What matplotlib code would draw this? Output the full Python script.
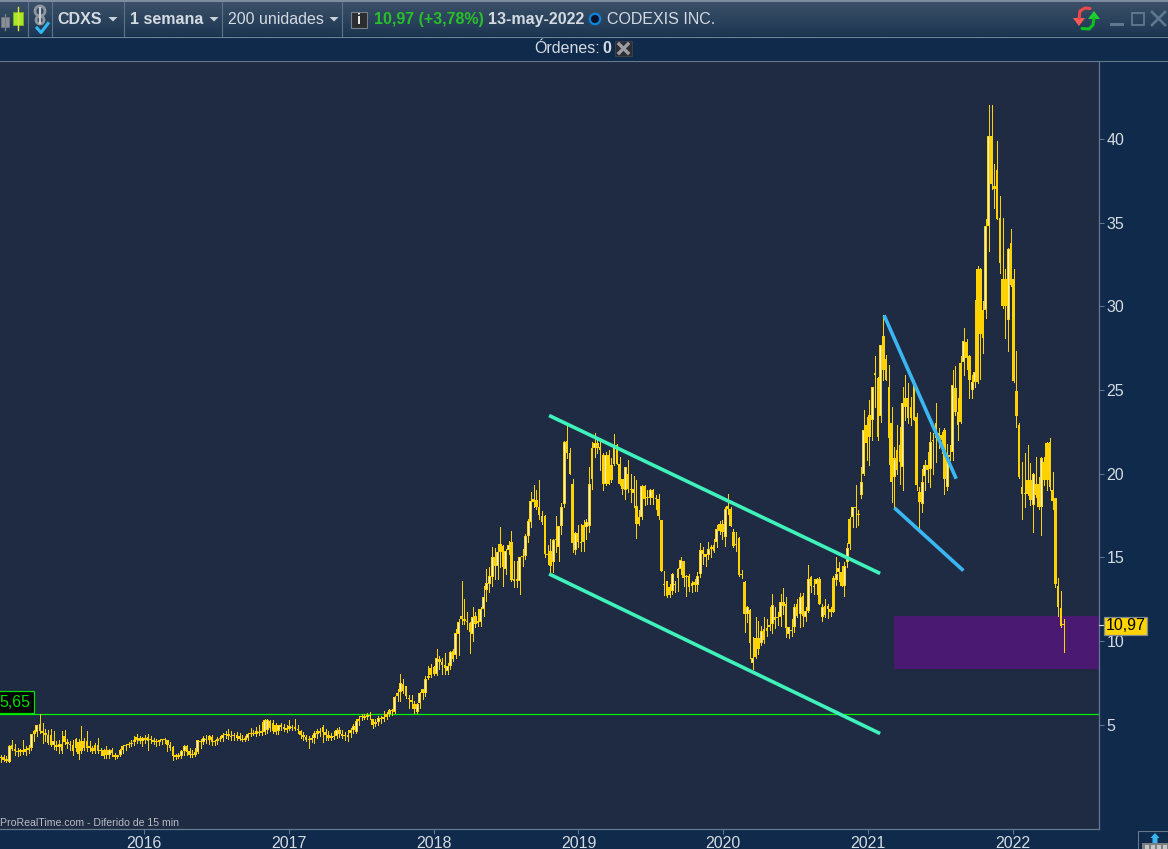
import numpy as np
import pandas as pd
import matplotlib
matplotlib.use('Agg')
import matplotlib.pyplot as plt
import matplotlib.dates as mdates
from matplotlib.patches import Rectangle, Circle, Polygon

plt.rcParams['font.family'] = ['Liberation Sans', 'DejaVu Sans']

# weekly candles, one [open, high, low, close] row per week
ohlc_2015 = [
    [3.0,3.15,2.75,3.05],[3.05,3.2,2.8,2.9],[2.95,3.1,2.75,2.8],[2.78,3.75,2.75,3.7],
    [3.75,4.05,3.5,3.55],[3.55,3.85,3.2,3.4],[3.4,3.6,3.1,3.35],[3.35,3.55,3.15,3.45],
    [3.45,4.1,3.25,3.35],[3.35,3.7,3.2,3.55],[3.45,3.75,3.3,3.6],[3.6,3.8,3.5,4.45],
    [4.45,4.7,4.0,4.6],[4.55,5.0,4.3,4.95],[5.05,5.6,4.5,4.6],[4.6,5.1,3.9,4.5],
    [4.5,4.75,4.0,4.35],[4.35,4.7,3.85,3.9],[4.4,4.75,3.7,3.8],[3.8,4.6,3.55,4.0],
    [3.8,4.0,3.5,3.65],[3.65,4.1,3.3,3.85],[3.85,4.6,3.3,3.4],[4.3,4.65,3.85,3.95],
    [3.95,4.15,3.6,3.85],[3.85,4.0,3.5,3.75],[3.75,4.1,3.2,3.4],[4.15,4.2,3.4,3.6],
    [3.95,4.15,2.95,3.25],[4.0,4.9,3.3,3.4],[4.0,4.2,3.5,3.6],[4.0,4.6,3.4,3.6],
    [3.7,4.0,3.4,3.6],[3.6,3.7,3.3,3.4],[3.75,3.9,3.3,3.4],[3.8,4.2,3.3,3.4],
    [3.4,3.6,3.2,3.5],[3.45,3.55,3.0,3.1],[3.5,3.7,3.0,3.15],[3.15,3.55,3.0,3.45],
    [3.45,3.6,3.1,3.3],[3.15,3.3,2.95,3.05],[3.05,3.2,3.0,3.15],[3.2,3.55,3.1,3.5],
    [3.45,3.75,3.3,3.7],[3.7,3.85,3.5,3.75],[3.75,3.95,3.65,3.85],[3.85,4.1,3.7,3.9],
    [3.95,4.3,3.75,4.1],[4.1,4.45,3.9,4.25],[4.2,4.3,3.9,4.0],[4.0,4.25,3.7,4.2],
]
ohlc_2016 = [
    [4.1,4.4,3.9,4.2],[4.25,4.45,3.5,4.0],[4.05,4.3,3.9,4.1],[4.05,4.2,3.85,3.95],
    [4.0,4.15,3.7,3.95],[3.95,4.1,3.75,4.05],[4.05,4.15,3.85,4.1],[4.1,4.2,3.9,4.15],
    [4.05,4.1,3.4,3.8],[3.8,3.95,3.5,3.6],[3.65,3.7,2.9,3.1],[3.05,3.25,2.95,3.15],
    [3.15,3.3,3.0,3.05],[3.1,3.5,3.0,3.4],[3.4,3.8,3.2,3.7],[3.7,3.75,3.2,3.35],
    [3.4,3.6,3.05,3.15],[3.15,3.5,3.05,3.2],[3.2,3.6,3.1,3.35],[3.35,4.1,3.3,4.05],
    [4.0,4.15,3.6,3.95],[3.95,4.3,3.85,4.2],[4.15,4.35,3.9,4.05],[4.1,4.4,3.85,4.3],
    [4.25,4.35,3.75,3.95],[3.95,4.1,3.8,4.0],[4.0,4.25,3.85,4.15],[4.15,4.3,4.0,4.2],
    [4.2,4.5,4.0,4.4],[4.35,4.6,4.2,4.45],[4.45,4.75,4.15,4.3],[4.3,4.6,4.1,4.25],
    [4.3,4.5,4.05,4.35],[4.35,4.55,4.1,4.2],[4.3,4.5,4.05,4.15],[4.1,4.4,4.0,4.05],
    [4.05,4.3,4.0,4.2],[4.2,4.5,4.05,4.45],[4.45,4.8,4.3,4.5],[4.5,4.65,4.35,4.45],
    [4.45,4.85,4.3,4.6],[4.55,5.0,4.35,4.5],[4.5,5.15,4.4,4.6],[4.55,5.35,4.45,5.25],
    [4.7,5.35,4.5,5.25],[5.2,5.25,4.6,4.8],[5.1,5.25,4.5,4.6],[4.95,5.1,4.45,4.55],
    [4.6,5.0,4.45,4.95],[4.95,5.1,4.7,4.85],[4.85,5.05,4.6,4.75],[4.8,4.95,4.55,4.7],
]
ohlc_2017 = [
    [4.75,5.25,4.7,4.9],[4.85,5.0,4.65,4.8],[4.85,5.35,4.7,4.75],[4.75,5.0,4.5,4.7],
    [4.6,4.65,4.2,4.4],[4.4,4.55,4.05,4.25],[4.25,4.35,4.0,4.1],[4.15,4.3,3.6,4.05],
    [4.05,4.4,3.95,4.2],[4.2,4.6,3.9,4.5],[4.45,4.75,4.2,4.6],[4.6,4.8,4.3,4.5],
    [4.85,5.0,3.95,4.55],[4.55,4.75,4.1,4.35],[4.35,4.6,4.1,4.2],[4.2,4.5,4.1,4.3],
    [4.3,4.6,4.15,4.25],[4.3,4.8,4.2,4.65],[4.65,4.85,4.25,4.45],[4.45,4.7,4.2,4.3],
    [4.3,4.55,4.1,4.4],[4.4,4.65,4.0,4.25],[4.5,4.8,4.25,4.7],[4.7,5.05,4.5,4.9],
    [4.55,5.35,4.5,5.2],[5.2,5.5,5.0,5.35],[5.45,5.6,5.25,5.5],[5.5,5.65,5.3,5.4],
    [5.45,5.7,5.3,5.55],[5.55,5.75,5.35,5.5],[5.3,5.35,4.8,5.0],[5.05,5.3,4.9,5.15],
    [5.15,5.5,5.0,5.4],[5.4,5.5,5.1,5.3],[5.3,5.8,5.2,5.45],[5.45,5.75,5.35,5.6],
    [5.65,5.95,5.5,5.85],[5.85,5.95,5.55,5.8],[5.75,6.7,5.7,6.65],[6.9,7.1,6.4,6.7],
    [6.95,8.0,6.4,7.5],[7.45,7.7,6.9,7.0],[7.3,7.3,6.6,6.7],[6.6,6.75,6.0,6.5],
    [6.45,6.75,6.0,6.35],[6.25,6.4,5.7,5.9],[5.75,6.3,5.7,6.25],[6.3,6.95,6.0,6.9],
    [6.9,7.15,6.5,7.1],[6.9,7.9,6.7,7.7],[7.8,8.5,7.7,7.9],[7.95,8.6,7.85,8.35],
]
ohlc_2018 = [
    [8.45,8.5,7.95,8.0],[8.0,9.5,7.95,9.0],[8.9,9.1,8.3,8.75],[8.75,8.95,8.0,8.55],
    [8.55,9.3,8.0,8.35],[8.2,8.7,8.0,8.5],[8.5,9.4,8.3,9.35],[9.4,9.5,8.8,8.9],
    [9.15,10.7,9.0,10.45],[10.4,11.3,9.15,11.1],[11.5,13.6,11.0,11.3],[11.3,12.5,11.0,11.2],
    [11.2,11.7,10.7,11.1],[11.05,11.1,9.25,10.5],[10.4,12.0,10.0,11.4],[11.5,11.7,10.8,11.0],
    [11.2,11.9,10.9,11.05],[11.1,12.0,10.9,11.9],[11.9,13.3,11.5,12.65],[13.05,14.3,12.4,13.45],
    [13.4,14.4,12.9,13.85],[13.8,15.6,13.3,15.0],[15.0,15.55,13.7,14.45],[14.45,15.8,13.7,15.3],
    [15.8,16.8,14.4,15.3],[15.65,15.7,13.3,14.4],[14.3,15.5,14.0,15.4],[15.45,15.95,15.2,15.7],
    [15.9,16.55,13.6,13.65],[13.7,14.8,13.2,13.6],[13.55,14.8,13.2,13.7],[13.6,15.0,12.8,15.0],
    [15.05,15.5,14.5,15.0],[15.05,16.4,14.9,16.25],[16.25,17.3,15.9,17.15],[17.1,18.9,16.8,18.35],
    [18.45,19.3,18.0,18.3],[18.4,19.0,17.9,18.0],[18.0,19.6,17.3,17.55],[17.45,17.75,17.0,17.1],
    [17.45,17.5,15.0,15.2],[15.2,15.7,14.6,15.15],[15.4,16.1,14.05,14.5],[14.7,16.1,14.1,16.05],
    [16.1,17.45,15.3,16.0],[15.6,16.85,14.8,16.85],[16.85,18.25,16.4,18.0],[18.2,21.95,18.0,21.9],
    [21.95,22.9,20.9,21.2],[21.2,21.5,20.0,20.0],[19.4,19.7,15.3,15.85],[15.45,16.5,15.2,16.45],
    [16.45,16.9,15.6,15.9],
]
ohlc_2019 = [
    [15.9,17.0,15.4,15.85],[16.9,17.2,15.4,15.9],[16.8,17.3,16.1,17.1],[16.85,20.4,16.5,19.35],
    [21.5,21.9,19.05,19.7],[21.5,22.4,21.0,21.8],[21.8,22.2,21.2,21.5],[21.6,22.1,20.2,21.4],
    [21.1,21.2,19.0,19.35],[19.4,21.3,19.3,21.1],[21.1,21.4,19.35,19.4],[20.5,20.9,19.5,19.6],
    [21.7,22.35,20.5,20.6],[21.7,21.75,20.6,20.6],[20.6,21.0,19.3,19.4],[19.65,19.7,18.8,19.1],
    [19.0,20.4,18.5,20.4],[20.0,20.8,18.9,19.1],[19.1,20.0,18.3,19.0],[19.1,19.85,18.0,18.85],
    [18.05,19.6,16.15,17.0],[17.4,17.85,16.9,17.0],[17.4,19.3,17.3,19.25],[19.25,19.3,18.1,18.5],
    [18.6,19.0,18.2,18.55],[18.55,19.05,18.2,19.0],[19.0,19.1,18.2,18.55],[18.5,18.7,17.9,18.45],
    [18.5,18.8,17.3,17.45],[17.2,17.25,14.15,14.2],[13.4,14.2,12.75,13.35],[13.55,13.6,12.6,12.7],
    [13.2,13.4,12.6,12.75],[13.0,14.05,12.8,14.0],[13.4,13.6,12.95,13.35],[14.3,14.35,13.0,13.75],
    [14.3,15.0,14.0,14.85],[14.75,14.8,13.3,13.75],[13.8,13.95,12.7,13.85],[13.85,14.0,13.0,13.2],
    [13.45,13.6,12.9,13.3],[13.5,13.7,13.0,13.35],[13.35,14.1,13.0,13.85],[14.0,15.85,13.8,15.45],
    [15.45,15.6,14.6,15.2],[15.2,15.2,14.5,15.0],[15.15,15.9,14.9,15.5],[15.5,15.75,15.0,15.6],
    [15.7,16.1,15.3,15.4],[15.9,16.9,15.6,16.7],[17.0,17.15,16.4,16.55],[17.0,17.2,16.1,16.5],
]
ohlc_2020 = [
    [16.2,18.0,15.65,17.9],[17.9,18.8,17.6,18.05],[17.9,18.0,16.85,16.85],[16.5,16.7,15.6,15.65],
    [15.8,16.5,15.4,15.7],[16.15,16.2,13.9,13.95],[13.95,14.25,13.75,13.98],[13.5,13.6,10.5,11.6],
    [11.6,12.1,11.1,12.05],[11.85,11.9,9.0,9.85],[8.65,10.25,8.3,8.95],[10.2,11.45,8.95,9.05],
    [10.2,11.2,9.2,9.5],[9.9,10.9,9.75,10.6],[10.7,11.45,9.9,10.05],[10.75,11.3,10.3,10.6],
    [10.95,12.0,10.65,10.8],[11.0,12.8,10.45,12.15],[11.4,12.0,10.75,11.25],[11.35,11.7,10.95,11.45],
    [11.4,12.8,10.9,12.3],[12.3,13.15,11.6,12.1],[12.2,12.65,10.25,10.75],[10.4,10.85,10.2,10.8],
    [10.65,11.3,10.3,10.6],[10.8,12.2,10.5,12.0],[12.2,12.5,11.4,11.5],[11.6,12.85,10.8,12.6],
    [12.7,12.85,10.9,11.5],[11.4,12.0,11.2,11.8],[11.8,14.55,11.7,13.7],[13.8,13.9,12.9,13.3],
    [13.3,13.7,12.8,13.2],[13.4,13.75,12.8,13.7],[13.7,13.8,12.2,12.2],[11.4,12.2,11.2,12.0],
    [12.1,12.5,11.4,11.55],[12.1,12.2,11.35,11.9],[11.9,12.0,11.5,11.7],[13.75,13.85,11.7,11.7],
    [13.65,15.0,13.35,14.0],[14.1,14.7,13.6,14.35],[14.1,14.5,13.3,13.3],[13.25,14.7,12.7,14.45],
    [14.7,15.85,14.4,15.55],[15.8,17.4,15.5,17.3],[17.4,18.0,16.8,18.0],[17.95,19.3,16.8,18.0],
    [17.6,17.8,16.9,17.55],[18.7,20.4,18.55,19.5],[20.0,23.8,19.9,22.6],[22.9,23.4,20.8,21.8],
]
ohlc_2021 = [
    [23.5,24.4,20.5,22.2],[23.2,25.2,22.0,25.2],[26.0,27.05,24.0,25.9],[25.7,25.8,22.0,22.2],
    [23.45,27.7,23.1,27.7],[28.2,29.45,25.6,26.2],[26.85,27.1,25.6,25.6],[25.2,26.5,20.6,22.1],
    [23.0,24.0,18.3,19.5],[19.8,21.6,18.0,20.9],[21.4,22.9,20.0,20.2],[21.7,22.8,19.4,20.7],
    [20.4,25.2,19.0,24.2],[24.5,25.9,23.2,24.0],[24.5,25.4,23.0,23.3],[24.0,24.6,22.9,23.3],
    [25.3,25.6,23.2,23.2],[23.4,23.6,19.0,19.3],[18.9,19.2,16.7,18.3],[18.2,20.3,17.7,19.5],
    [19.85,20.8,19.0,20.5],[20.5,21.3,19.5,20.2],[20.3,22.5,19.2,21.9],[22.0,22.4,20.0,21.95],
    [23.0,24.2,20.7,22.1],[22.4,22.7,21.5,22.0],[22.3,22.5,21.2,22.0],[22.6,22.7,18.8,19.7],
    [19.2,21.75,19.0,21.1],[21.1,21.7,20.8,21.0],[21.3,26.2,20.8,25.3],[25.1,26.4,23.5,23.65],
    [23.7,24.5,22.0,22.9],[23.1,27.05,23.0,26.6],[26.65,28.7,25.9,27.9],[27.85,28.05,26.25,26.9],
    [27.0,27.1,24.5,25.6],[25.0,25.9,24.5,25.5],[25.5,30.4,25.2,26.05],[32.2,32.4,25.4,25.45],
    [32.25,32.3,25.65,28.35],[29.75,30.3,27.2,28.1],[29.75,35.2,29.3,34.8],[34.8,42.0,33.3,40.15],
    [40.2,42.0,37.0,37.3],[37.2,38.5,35.9,37.0],[38.15,39.85,35.2,35.2],[35.3,36.6,32.0,32.6],
    [31.65,35.3,29.9,30.0],[31.65,32.25,28.1,30.0],[29.15,33.5,27.3,33.4],[33.8,34.6,31.2,31.25],
]
ohlc_2022 = [
    [31.6,32.25,25.5,25.55],[24.96,27.3,22.8,23.45],[22.9,23.0,19.75,19.8],[19.2,20.7,17.3,18.75],
    [18.8,21.2,18.0,18.75],[19.6,21.7,18.7,18.75],[19.6,20.65,18.15,18.4],[18.1,20.05,16.5,20.0],
    [19.4,21.0,18.6,18.7],[19.4,19.8,17.9,18.0],[18.0,21.0,16.3,20.9],[20.7,21.0,19.3,19.6],
    [19.6,21.9,19.0,21.85],[21.9,22.1,19.0,19.2],[19.0,20.1,17.9,18.35],[18.55,18.55,13.2,13.4],
    [13.25,13.75,11.5,12.0],[11.95,13.0,10.85,10.9],[10.95,11.3,9.35,10.97],
]

last_week = '2022-05-09'
last_close = 10.97
support_level = 5.65
years = [2016, 2017, 2018, 2019, 2020, 2021, 2022]
price_ticks = [5, 10, 15, 20, 25, 30, 35, 40]

# channel and wedge lines: (start date, start price, end date, end price)
channel_upper = ('2018-10-19', 23.47, '2021-01-31', 14.03)
channel_lower = ('2018-10-19', 14.0, '2021-01-31', 4.46)
wedge_upper = ('2021-02-10', 29.46, '2021-08-11', 19.69)
wedge_lower = ('2021-03-08', 17.95, '2021-08-29', 14.2)
zone_start = '2021-03-08'
zone_low, zone_high = 8.29, 11.5

CHART_BG = '#1f2b42'
SIDE_BG = '#0f2a4a'
AXIS_COL = '#66788e'
TEXT_COL = '#d3dae2'
CANDLE = '#ffd200'

ohlc = np.array(ohlc_2015 + ohlc_2016 + ohlc_2017 + ohlc_2018
                + ohlc_2019 + ohlc_2020 + ohlc_2021 + ohlc_2022)
open_, high, low, close = ohlc.T
weeks = pd.date_range(end=last_week, periods=len(ohlc), freq='7D')
x = mdates.date2num(weeks)

W, H = 1168, 849
fig = plt.figure(figsize=(W / 100, H / 100), dpi=100, facecolor=SIDE_BG)
ax = fig.add_axes([0, (H - 829) / H, 1099 / W, 767 / H], facecolor=CHART_BG)

# price zone under the candles
zone_x0 = mdates.datestr2num(zone_start)
ax.add_patch(Rectangle((zone_x0, zone_low), 1000, zone_high - zone_low,
                       fc='#4a1a72', ec='none', zorder=1))
ax.axhline(support_level, color='#00f000', lw=0.9, zorder=2)

# wicks then bodies, a white core when the week closed up
ax.vlines(x, low, high, color=CANDLE, lw=0.5, antialiased=False, zorder=3)
up = close >= open_
bottoms = np.minimum(open_, close)
heights = np.maximum(np.abs(close - open_), 0.06)
ax.bar(x[up], heights[up], bottom=bottoms[up], width=7.6, color=CANDLE,
       linewidth=0, antialiased=False, zorder=4)
ax.bar(x[~up], heights[~up], bottom=bottoms[~up], width=6.2, color=CANDLE,
       linewidth=0, antialiased=False, zorder=4)
core = up & (heights > 0.2)
ax.bar(x[core], heights[core] - 0.12, bottom=bottoms[core] + 0.06, width=2.4,
       color='#f2efe8', linewidth=0, antialiased=False, zorder=5)

for line, col in [(channel_upper, '#3ff2bb'), (channel_lower, '#3ff2bb'),
                  (wedge_upper, '#3ab6f2'), (wedge_lower, '#3ab6f2')]:
    d0, p0, d1, p1 = line
    ax.plot(mdates.datestr2num([d0, d1]), [p0, p1], color=col, lw=2.6,
            solid_capstyle='butt', zorder=6)

ax.set_xlim(mdates.date2num(pd.Timestamp('2016-01-01')) - 144 / 0.3964,
            mdates.date2num(pd.Timestamp('2016-01-01')) + 955 / 0.3964)
ax.set_ylim(-1.246, 44.6)

ax.set_xticks(mdates.date2num([pd.Timestamp(f'{y}-01-01') for y in years]))
ax.set_xticklabels([str(y) for y in years])
ax.yaxis.tick_right()
ax.set_yticks(price_ticks)
ax.tick_params(axis='both', colors=AXIS_COL, labelcolor=TEXT_COL, labelsize=11.5,
               length=3.6, width=0.75, pad=1.8)
ax.tick_params(axis='x', pad=1.2)
for side in ['left', 'top']:
    ax.spines[side].set_visible(False)
for side in ['right', 'bottom']:
    ax.spines[side].set_color(AXIS_COL)
    ax.spines[side].set_linewidth(0.9)

# value flags on the price line and on the axis
ax.annotate('5,65', xy=(0, support_level), xycoords=('axes fraction', 'data'),
            xytext=(-1, 4), textcoords='offset pixels', color='#00e000', fontsize=11.5,
            ha='left', va='bottom', zorder=8,
            bbox=dict(boxstyle='square,pad=0.24', fc='black', ec='#00e000', lw=0.9))
ax.plot([1, 1.0046], [last_close, last_close], color='#d8dee6', lw=0.8, clip_on=False,
        transform=ax.get_yaxis_transform(), zorder=6)
ax.annotate('10,97', xy=(1, last_close), xycoords=('axes fraction', 'data'),
            xytext=(7, -1), textcoords='offset pixels', color='black', fontsize=11.5,
            ha='left', va='center', annotation_clip=False, zorder=8,
            bbox=dict(boxstyle='square,pad=0.1', fc='#ffd400', ec='#7d8a98', lw=0.9))

# window furniture, drawn in pixel coordinates over everything
ui = fig.add_axes([0, 0, 1, 1], facecolor='none', zorder=10)
ui.axis('off')
grad = np.linspace(0, 1, 34).reshape(-1, 1, 1)
top_col = np.array([0x3b, 0x50, 0x68]) / 255
bot_col = np.array([0x1d, 0x36, 0x52]) / 255
ui.imshow(top_col + (bot_col - top_col) * grad, extent=(0, W, 36, 2), aspect='auto')
ui.add_patch(Rectangle((0, 0), W, 2, fc='#7d8ca0', ec='none'))
ui.plot([0, W], [36.5, 36.5], color='#6f8296', lw=0.8)
ui.plot([0, W], [61, 61], color=AXIS_COL, lw=0.8)
for sep in [28, 52, 124, 222, 342]:
    ui.plot([sep, sep], [2, 36], color='#5f7388', lw=0.8)

ui.plot([5, 5], [14, 30], color='#777f88', lw=1)
ui.add_patch(Rectangle((1, 17), 8, 10, fc='#8b9096', ec='#6d747c', lw=0.7))
ui.plot([18, 18], [7, 30], color='#e8e040', lw=1)
ui.add_patch(Rectangle((13, 12), 10, 13, fc='#a8e828', ec='#7fb020', lw=0.7))

ui.add_patch(Circle((40, 11), 5, fc='none', ec='#8f959c', lw=2))
ui.add_patch(Circle((40, 20), 4, fc='none', ec='#8f959c', lw=2))
ui.plot([40, 40], [8, 23], color='#c8ccd0', lw=1.6)
ui.plot([37, 41, 48], [28, 32.5, 23.5], color='#2fb8f4', lw=2.2)

for tx in [113, 214, 334]:
    ui.add_patch(Polygon([(tx - 4.5, 17), (tx + 4.5, 17), (tx, 21.5)], fc='#c8d0d8', ec='none'))

text_y = 19
ui.text(57, text_y, 'CDXS', color=TEXT_COL, fontsize=11.5, fontweight='bold', va='center')
ui.text(130, text_y, '1 semana', color=TEXT_COL, fontsize=11.5, fontweight='bold', va='center')
ui.text(228, text_y, '200 unidades', color=TEXT_COL, fontsize=11.5, va='center')
ui.add_patch(Rectangle((350.5, 11.5), 16, 16, fc='#2b2d30', ec='#7a8088', lw=0.8))
ui.text(358.5, text_y + 0.5, 'i', color='#e8e8e8', fontsize=10.5, fontweight='bold', ha='center', va='center')
ui.text(374, text_y, '10,97 (+3,78%)', color='#28c028', fontsize=11.5, fontweight='bold', va='center')
ui.text(488, text_y, '13-may-2022', color=TEXT_COL, fontsize=11.5, fontweight='bold', va='center')
ui.add_patch(Circle((595, 19), 5.2, fc='#06122a', ec='#0b86dc', lw=1.6))
ui.text(607, text_y, 'CODEXIS INC.', color=TEXT_COL, fontsize=11.5, va='center')

ui.text(534, 48.5, 'Órdenes:', color=TEXT_COL, fontsize=11.5, va='center')
ui.text(602, 48.5, '0', color=TEXT_COL, fontsize=11.5, fontweight='bold', va='center')
ui.add_patch(Rectangle((615, 41), 17, 15, fc='#2b2d30', ec='#3c4046', lw=0.7))
ui.plot([619, 628], [44, 53], color='#9a9ea4', lw=2.4)
ui.plot([628, 619], [44, 53], color='#9a9ea4', lw=2.4)

# refresh arrows
ui.plot([1090, 1085, 1080, 1079], [8.5, 8, 11, 19], color='#f04848', lw=2.2, solid_capstyle='round')
ui.add_patch(Polygon([(1073, 18), (1085, 18), (1079, 26)], fc='#ff5a5a', ec='none'))
ui.plot([1082, 1089, 1093, 1094], [28.5, 29, 25, 18], color='#10c020', lw=2.2, solid_capstyle='round')
ui.add_patch(Polygon([(1088, 19), (1100, 19), (1094, 11)], fc='#20d030', ec='none'))

win_col = '#5e7890'
ui.add_patch(Rectangle((1110, 23), 14, 2.5, fc=win_col, ec='none'))
ui.add_patch(Rectangle((1131.5, 12.5), 12, 12, fc='none', ec=win_col, lw=1.3))
ui.add_patch(Rectangle((1131, 11.5), 13, 2.5, fc=win_col, ec='none'))
ui.plot([1152, 1165], [12, 25], color=win_col, lw=1.9)
ui.plot([1165, 1152], [12, 25], color=win_col, lw=1.9)

ui.text(0, 823, 'ProRealTime.com - Diferido de 15 min', color='#b9bec4', fontsize=7.6, va='center')

# corner button
ui.plot([1137.5, 1137.5, W], [H, 830.5, 830.5], color=AXIS_COL, lw=0.8)
ui.add_patch(Polygon([(1150.5, 838), (1155, 833), (1159.5, 838), (1157.5, 838), (1157.5, 843),
                      (1152.5, 843), (1152.5, 838)], fc='#38b6f4', ec='none'))
ui.add_patch(Rectangle((1142, 843), 26, 6, fc='#7c7f82', ec='none'))
for sq in [1145, 1151, 1157, 1163]:
    ui.add_patch(Rectangle((sq, 845), 4, 4, fc='#c4c6c8', ec='none'))

ui.set_xlim(0, W)
ui.set_ylim(H, 0)

fig.savefig('out.png', dpi=100, facecolor=fig.get_facecolor())
